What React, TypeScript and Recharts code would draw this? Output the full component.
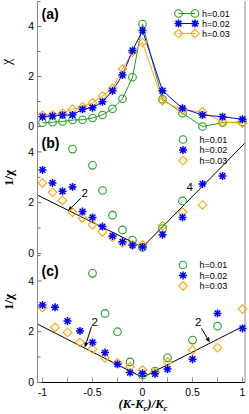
import {
  ComposedChart,
  Line,
  ReferenceDot,
  ReferenceLine,
  XAxis,
  YAxis,
} from "recharts";

const W = 249;
const GREEN = "#1f9e1f";
const BLUE = "#0000ff";
const ORANGE = "#ffa500";
const FRAME = "#8c8c8c";
const TICK = "#6e6e6e";
const SANS = "'Liberation Sans', Arial, sans-serif";
const SERIF = "'Liberation Serif', 'Times New Roman', serif";
const X_DOMAIN: [number, number] = [-1.05, 1.025];

// axes
const xTicks = [-1, -0.75, -0.5, -0.25, 0, 0.25, 0.5, 0.75, 1];
const xLabelValues = [-1, -0.5, 0, 0.5, 1];
const xLabelTexts = ["-1", "-0.5", "0", "0.5", "1"];
const yTicks = [0, 1, 2, 3, 4, 5];
const yLabelValues = [0, 2, 4];
const legendNames = ["h=0.01", "h=0.02", "h=0.03"];

// panel (a): chi
const kA = [-1, -0.9, -0.8, -0.7, -0.6, -0.5, -0.4, -0.3, -0.2, -0.1, 0, 0.2, 0.4, 0.6, 0.8, 1];
const chiA01 = [0.15, 0.17, 0.2, 0.26, 0.27, 0.34, 0.46, 0.71, 1.11, 1.97, 4.1, 1.09, 0.53, 0.0, 0.15, 0.18];
const chiA02 = [0.39, 0.42, 0.46, 0.46, 0.69, 0.75, 0.99, 1.43, 2.06, 3.04, 3.84, 1.43, 0.73, 0.46, 0.39, 0.29];
const chiA03 = [0.45, 0.47, 0.53, 0.69, 0.79, 0.95, 1.22, 1.53, 2.3, 2.97, 3.36, 1.03, 0.66, 0.59, 0.18, 0.13];

// panel (b): 1/chi
const kB01 = [-0.7, -0.5, -0.4, -0.3, -0.2, -0.1, 0, 0.2, 0.4];
const invB01 = [4.11, 3.47, 2.48, 1.51, 0.93, 0.53, 0.24, 0.98, 2.07];
const kB02 = [-1, -0.9, -0.8, -0.7, -0.6, -0.5, -0.4, -0.3, -0.2, -0.1, 0, 0.2, 0.4, 0.6, 0.8];
const invB02 = [3.29, 2.78, 2.45, 2.62, 1.65, 1.42, 1.06, 0.69, 0.46, 0.32, 0.26, 0.74, 1.42, 2.74, 3.05];
const kB03 = [-1, -0.9, -0.8, -0.7, -0.6, -0.5, -0.4, -0.3, -0.2, -0.1, 0, 0.2, 0.4, 0.6];
const invB03 = [2.78, 2.41, 2.09, 1.62, 1.39, 1.13, 0.85, 0.64, 0.42, 0.33, 0.34, 1.09, 1.63, 1.91];
const fitBk = [-1.05, 0, 1.025];
const fitBv = [2.3, 0.25, 4.35];

// panel (c): 1/chi
const kC01 = [-0.5, -0.375, -0.25, -0.125, 0, 0.125, 0.25, 0.5, 0.75];
const invC01 = [4.3, 2.72, 2.0, 0.81, 0.29, 0.45, 0.97, 1.67, 2.22];
const kC = [-1, -0.875, -0.75, -0.625, -0.5, -0.375, -0.25, -0.125, 0, 0.125, 0.25, 0.5, 0.75, 1];
const invC02 = [3.05, 2.96, 2.42, 2.03, 1.58, 1.18, 0.72, 0.39, 0.36, 0.34, 0.53, 0.92, 2.72, 2.13];
const invC03 = [2.95, 2.17, 1.97, 1.58, 1.31, 0.97, 0.77, 0.62, 0.49, 0.39, 0.81, 1.28, 1.37, 2.89];
const fitCk = [-1.05, 0, 1.025];
const fitCv = [2.3, 0.2, 2.25];

const pts = (xs: number[], ys: number[]) => xs.map((x, i) => ({ x, y: ys[i] }));

type Shape = "circle" | "star" | "diamond";

function Marker({ cx, cy, shape, color }: { cx?: number; cy?: number; shape: Shape; color: string }) {
  if (cx == null || cy == null) return null;
  if (shape === "circle")
    return <circle cx={cx} cy={cy} r={3.8} fill="none" stroke={color} strokeWidth={1.1} />;
  if (shape === "diamond") {
    const r = 4.3;
    return (
      <path
        d={`M${cx},${cy - r}L${cx + r},${cy}L${cx},${cy + r}L${cx - r},${cy}Z`}
        fill="none"
        stroke={color}
        strokeWidth={1.1}
      />
    );
  }
  const r = 4;
  const d = r * 0.72;
  return (
    <path
      d={`M${cx - r},${cy}H${cx + r}M${cx},${cy - r}V${cy + r}M${cx - d},${cy - d}L${cx + d},${cy + d}M${cx - d},${cy + d}L${cx + d},${cy - d}`}
      stroke={color}
      strokeWidth={1.5}
    />
  );
}

type Series = { data: { x: number; y: number }[]; color: string; shape: Shape; line: boolean };
type Note = { tx: number; ty: number; text: string; arrow?: [number, number, number, number] };

function Arrow(p: any) {
  const { x1, y1, x2, y2 } = p;
  if ([x1, y1, x2, y2].some((v) => typeof v !== "number")) return null;
  const ang = Math.atan2(y2 - y1, x2 - x1);
  const L = 5;
  const w = 2.2;
  const bx = x2 - L * Math.cos(ang);
  const by = y2 - L * Math.sin(ang);
  const nx = -Math.sin(ang) * w;
  const ny = Math.cos(ang) * w;
  return (
    <g>
      <line x1={x1} y1={y1} x2={bx} y2={by} stroke="#000" strokeWidth={1} />
      <path d={`M${x2},${y2}L${bx + nx},${by + ny}L${bx - nx},${by - ny}Z`} fill="#000" />
    </g>
  );
}

function Panel({
  top,
  height,
  marginTop,
  marginBottom,
  xAxisHeight,
  yMax,
  series,
  fit,
  notes,
  topTickLen,
  topFrame,
  bottomTickLen,
  showXLabels,
}: {
  top: number;
  height: number;
  marginTop: number;
  marginBottom: number;
  xAxisHeight: number;
  yMax: number;
  series: Series[];
  fit?: { x: number; y: number }[];
  notes: Note[];
  topTickLen: number;
  topFrame: boolean;
  bottomTickLen: number;
  showXLabels: boolean;
}) {
  const bottomTick = (p: any) => {
    const { x, y, payload } = p;
    const idx = xLabelValues.indexOf(payload.value);
    return (
      <g>
        {bottomTickLen > 0 && <line x1={x} x2={x} y1={y} y2={y - bottomTickLen} stroke={FRAME} />}
        {showXLabels && idx >= 0 && (
          <text x={x} y={y + 13.5} textAnchor="middle" fontSize={10.5} fontFamily={SANS} fill="#000">
            {xLabelTexts[idx]}
          </text>
        )}
      </g>
    );
  };
  const topTick = (p: any) => (
    <line x1={p.x} x2={p.x} y1={p.y} y2={p.y + topTickLen} stroke={FRAME} />
  );
  const leftTick = (p: any) => {
    const { x, y, payload } = p;
    const major = yLabelValues.includes(payload.value);
    return (
      <g>
        <line x1={x} x2={x + (major ? 4 : 3)} y1={y} y2={y} stroke={TICK} />
        {major && (
          <text x={x - 3.5} y={y} dy="0.36em" textAnchor="end" fontSize={10.5} fontFamily={SANS} fill="#000">
            {payload.value}
          </text>
        )}
      </g>
    );
  };
  const rightTick = (p: any) => {
    const { x, y, payload } = p;
    const major = yLabelValues.includes(payload.value);
    return <line x1={x} x2={x - (major ? 4 : 3)} y1={y} y2={y} stroke={TICK} />;
  };

  return (
    <div style={{ position: "absolute", left: 0, top, width: W, height }}>
      <ComposedChart
        width={W}
        height={height}
        margin={{ top: marginTop, right: 0, bottom: marginBottom, left: 0 }}
      >
        <XAxis
          xAxisId="b"
          dataKey="x"
          type="number"
          domain={X_DOMAIN}
          ticks={xTicks}
          interval={0}
          height={xAxisHeight}
          axisLine={{ stroke: "#000", strokeWidth: 1 }}
          tickLine={false}
          tickSize={0}
          tickMargin={0}
          tick={bottomTick}
        />
        <XAxis
          xAxisId="t"
          orientation="top"
          type="number"
          domain={X_DOMAIN}
          ticks={xTicks}
          interval={0}
          height={0}
          axisLine={topFrame ? { stroke: FRAME } : false}
          tickLine={false}
          tickSize={0}
          tickMargin={0}
          tick={topTickLen > 0 ? topTick : false}
        />
        <YAxis
          yAxisId="l"
          type="number"
          domain={[0, yMax]}
          ticks={yTicks}
          interval={0}
          width={37.5}
          axisLine={{ stroke: FRAME }}
          tickLine={false}
          tickSize={0}
          tickMargin={0}
          tick={leftTick}
        />
        <YAxis
          yAxisId="r"
          orientation="right"
          type="number"
          domain={[0, yMax]}
          ticks={yTicks}
          interval={0}
          width={4}
          axisLine={{ stroke: FRAME }}
          tickLine={false}
          tickSize={0}
          tickMargin={0}
          tick={rightTick}
        />
        {fit && (
          <Line
            xAxisId="b"
            yAxisId="l"
            data={fit}
            dataKey="y"
            type="linear"
            stroke="#000"
            strokeWidth={1}
            dot={false}
            activeDot={false}
            isAnimationActive={false}
          />
        )}
        {series.map((s, i) => (
          <Line
            key={i}
            xAxisId="b"
            yAxisId="l"
            data={s.data}
            dataKey="y"
            type="linear"
            stroke={s.line ? s.color : "none"}
            strokeWidth={1}
            dot={(p: any) => (
              <Marker key={`m${i}-${p.index}`} cx={p.cx} cy={p.cy} shape={s.shape} color={s.color} />
            )}
            activeDot={false}
            isAnimationActive={false}
          />
        ))}
        {notes.map((n, i) =>
          n.arrow ? (
            <ReferenceLine
              key={`a${i}`}
              xAxisId="b"
              yAxisId="l"
              segment={[
                { x: n.arrow[0], y: n.arrow[1] },
                { x: n.arrow[2], y: n.arrow[3] },
              ]}
              shape={Arrow}
            />
          ) : null
        )}
        {notes.map((n, i) => (
          <ReferenceDot
            key={`t${i}`}
            xAxisId="b"
            yAxisId="l"
            x={n.tx}
            y={n.ty}
            r={0}
            shape={(p: any) => (
              <text x={p.cx} y={p.cy} dy="0.36em" textAnchor="middle" fontSize={11.5} fontFamily={SANS} fill="#000">
                {n.text}
              </text>
            )}
          />
        ))}
      </ComposedChart>
    </div>
  );
}

function LegendRow({ y, xm, tx, shape, color, line }: { y: number; xm: number; tx: number; shape: Shape; color: string; line: boolean }) {
  return (
    <g>
      {line && <line x1={xm} x2={xm + 16.5} y1={y} y2={y} stroke={color} strokeWidth={1} />}
      <Marker cx={xm} cy={y} shape={shape} color={color} />
      {line && <Marker cx={xm + 16.5} cy={y} shape={shape} color={color} />}
      <text x={tx} y={y} dy="0.36em" fontSize={9} fontFamily={SANS} fill="#000">
        {legendNames[shape === "circle" ? 0 : shape === "star" ? 1 : 2]}
      </text>
    </g>
  );
}

const shapes: Shape[] = ["circle", "star", "diamond"];
const colors = [GREEN, BLUE, ORANGE];

export default function App() {
  const seriesA: Series[] = [
    { data: pts(kA, chiA01), color: GREEN, shape: "circle", line: true },
    { data: pts(kA, chiA03), color: ORANGE, shape: "diamond", line: true },
    { data: pts(kA, chiA02), color: BLUE, shape: "star", line: true },
  ];
  const seriesB: Series[] = [
    { data: pts(kB01, invB01), color: GREEN, shape: "circle", line: false },
    { data: pts(kB03, invB03), color: ORANGE, shape: "diamond", line: false },
    { data: pts(kB02, invB02), color: BLUE, shape: "star", line: false },
  ];
  const seriesC: Series[] = [
    { data: pts(kC01, invC01), color: GREEN, shape: "circle", line: false },
    { data: pts(kC, invC03), color: ORANGE, shape: "diamond", line: false },
    { data: pts(kC, invC02), color: BLUE, shape: "star", line: false },
  ];

  return (
    <div style={{ position: "absolute", left: 0, top: 0, width: W, height: 414, background: "#fff" }}>
      <style>{`.recharts-surface { overflow: visible; }`}</style>
      <Panel
        top={0}
        height={127}
        marginTop={1.5}
        marginBottom={0.5}
        xAxisHeight={0}
        yMax={5}
        series={seriesA}
        notes={[]}
        topTickLen={5}
        topFrame={true}
        bottomTickLen={0}
        showXLabels={false}
      />
      <Panel
        top={126}
        height={128}
        marginTop={0.5}
        marginBottom={0.5}
        xAxisHeight={0}
        yMax={5}
        series={seriesB}
        fit={pts(fitBk, fitBv)}
        notes={[
          { tx: -0.577, ty: 2.4, text: "2", arrow: [-0.617, 2.18, -0.744, 1.67] },
          { tx: 0.473, ty: 2.64, text: "4" },
        ]}
        topTickLen={6}
        topFrame={false}
        bottomTickLen={6}
        showXLabels={false}
      />
      <Panel
        top={253}
        height={161}
        marginTop={0.5}
        marginBottom={0}
        xAxisHeight={31.5}
        yMax={5.08}
        series={seriesC}
        fit={pts(fitCk, fitCv)}
        notes={[
          { tx: -0.477, ty: 2.39, text: "2", arrow: [-0.51, 2.2, -0.577, 1.38] },
          { tx: 0.556, ty: 2.37, text: "2", arrow: [0.59, 2.13, 0.673, 1.58] },
        ]}
        topTickLen={0}
        topFrame={false}
        bottomTickLen={5}
        showXLabels={true}
      />
      <svg
        width={W}
        height={414}
        style={{ position: "absolute", left: 0, top: 0, pointerEvents: "none" }}
      >
        <text x={41.5} y={19} fontSize={14} fontWeight="bold" fontFamily={SANS}>(a)</text>
        <text x={41.5} y={147.5} fontSize={14} fontWeight="bold" fontFamily={SANS}>(b)</text>
        <text x={41.5} y={276} fontSize={14} fontWeight="bold" fontFamily={SANS}>(c)</text>

        <text x={0} y={0} transform="translate(11,62) rotate(-90)" textAnchor="middle" fontSize={14} fontFamily={SERIF}>χ</text>
        <text x={0} y={0} transform="translate(12.5,178) rotate(-90)" textAnchor="middle" fontSize={13} fontWeight="bold" fontFamily={SERIF}>1/χ</text>
        <text x={0} y={0} transform="translate(12.5,302) rotate(-90)" textAnchor="middle" fontSize={13} fontWeight="bold" fontFamily={SERIF}>1/χ</text>

        <text x={143} y={408} textAnchor="middle" fontSize={12.5} fontWeight="bold" fontStyle="italic" fontFamily={SERIF}>
          (K-K<tspan fontSize={9} dy={3}>c</tspan>
          <tspan dy={-3}>)/K</tspan>
          <tspan fontSize={9} dy={3}>c</tspan>
        </text>

        {shapes.map((s, i) => (
          <LegendRow key={`la${i}`} y={13.5 + i * 10} xm={178.5} tx={202} shape={s} color={colors[i]} line={true} />
        ))}
        {shapes.map((s, i) => (
          <LegendRow key={`lb${i}`} y={139.5 + i * 10.5} xm={183} tx={199.5} shape={s} color={colors[i]} line={false} />
        ))}
        {shapes.map((s, i) => (
          <LegendRow key={`lc${i}`} y={265 + i * 10.4} xm={183} tx={199.5} shape={s} color={colors[i]} line={false} />
        ))}
      </svg>
    </div>
  );
}
